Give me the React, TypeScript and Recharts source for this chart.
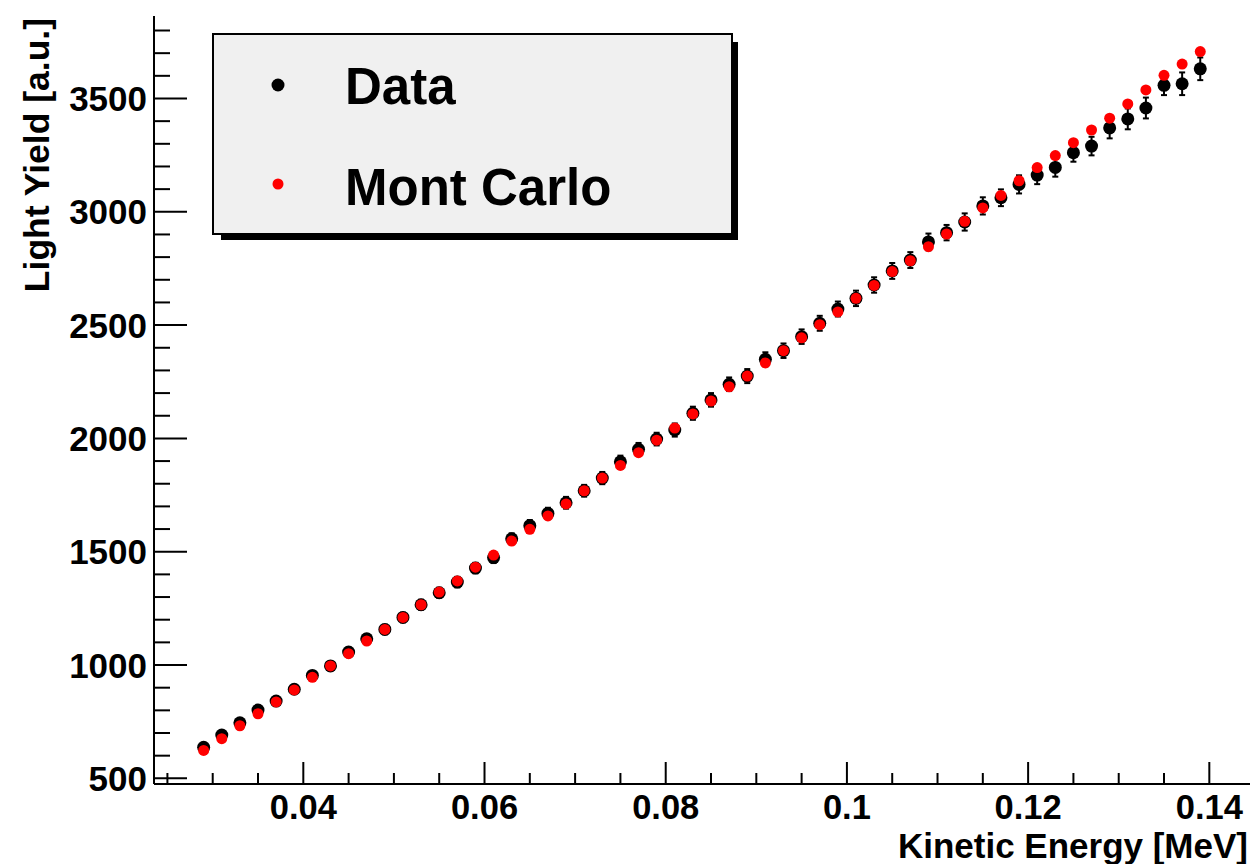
import React from 'react';
import { ScatterChart, Scatter, XAxis, YAxis, ErrorBar, Legend, Label } from 'recharts';

// ---------- data ----------
const energies = [
  0.029, 0.031, 0.033, 0.035, 0.037, 0.039, 0.041, 0.043, 0.045, 0.047,
  0.049, 0.051, 0.053, 0.055, 0.057, 0.059, 0.061, 0.063, 0.065, 0.067,
  0.069, 0.071, 0.073, 0.075, 0.077, 0.079, 0.081, 0.083, 0.085, 0.087,
  0.089, 0.091, 0.093, 0.095, 0.097, 0.099, 0.101, 0.103, 0.105, 0.107,
  0.109, 0.111, 0.113, 0.115, 0.117, 0.119, 0.121, 0.123, 0.125, 0.127,
  0.129, 0.131, 0.133, 0.135, 0.137, 0.139,
];

const dataValues = [
  637, 691, 745, 801, 841, 893, 954, 996, 1057, 1116,
  1157, 1210, 1266, 1319, 1366, 1428, 1474, 1557, 1615, 1669,
  1716, 1769, 1825, 1897, 1952, 1997, 2037, 2111, 2170, 2239,
  2275, 2349, 2387, 2449, 2508, 2571, 2618, 2677, 2739, 2787,
  2867, 2908, 2955, 3026, 3062, 3121, 3162, 3196, 3261, 3290,
  3370, 3410, 3458, 3558, 3565, 3631,
];

const dataErrors = [
  16, 16, 17, 17, 18, 18, 19, 19, 20, 20,
  21, 21, 22, 22, 23, 23, 24, 24, 25, 25,
  26, 26, 27, 27, 28, 28, 29, 29, 30, 30,
  31, 31, 32, 32, 33, 33, 34, 34, 35, 35,
  37, 34, 38, 38, 37, 40, 40, 41, 40, 41,
  46, 46, 46, 43, 50, 50,
];

const mcValues = [
  623, 675, 732, 785, 837, 890, 946, 996, 1050, 1106,
  1157, 1210, 1266, 1322, 1371, 1432, 1485, 1547, 1599, 1658,
  1711, 1769, 1825, 1881, 1937, 1992, 2046, 2108, 2165, 2228,
  2275, 2333, 2387, 2444, 2502, 2558, 2618, 2675, 2736, 2784,
  2846, 2902, 2958, 3017, 3072, 3137, 3195, 3248, 3305, 3361,
  3413, 3476, 3538, 3602, 3652, 3707,
];

const seriesNames = ['Data', 'Mont Carlo'];
const seriesColors = ['#000000', '#ff0000'];

const xMajorTicks = [0.04, 0.06, 0.08, 0.1, 0.12, 0.14];
const xMajorLabels = ['0.04', '0.06', '0.08', '0.1', '0.12', '0.14'];
const xMinorTicks = [
  0.025, 0.03, 0.035, 0.045, 0.05, 0.055, 0.065, 0.07, 0.075, 0.085, 0.09,
  0.095, 0.105, 0.11, 0.115, 0.125, 0.13, 0.135,
];
const yMajorTicks = [500, 1000, 1500, 2000, 2500, 3000, 3500];
const yMajorLabels = ['500', '1000', '1500', '2000', '2500', '3000', '3500'];
const yMinorTicks = [
  600, 700, 800, 900, 1100, 1200, 1300, 1400, 1600, 1700, 1800, 1900,
  2100, 2200, 2300, 2400, 2600, 2700, 2800, 2900, 3100, 3200, 3300, 3400,
  3600, 3700, 3800,
];

const xTitle = 'Kinetic Energy [MeV]';
const yTitle = 'Light Yield [a.u.]';

const xDomain: [number, number] = [0.02352, 0.14449];
const yDomain: [number, number] = [475, 3864];

// ---------- layout / style ----------
const W = 1255;
const H = 864;
const FONT = "'Liberation Sans', Arial, Helvetica, sans-serif";
const PLOT_LEFT = 154;
const PLOT_TOP = 16;
const PLOT_RIGHT = 1250;
const PLOT_BOTTOM = 784;

const dataPoints = energies.map((e, i) => ({ x: e, y: dataValues[i], err: dataErrors[i] }));
const mcPoints = energies.map((e, i) => ({ x: e, y: mcValues[i] }));

const XTick = (props: any) => {
  const { x, y, payload } = props;
  const v = payload.value;
  const idx = xMajorTicks.findIndex((t) => Math.abs(t - v) < 1e-9);
  const major = idx >= 0;
  return (
    <g>
      <line x1={x} y1={y} x2={x} y2={y - (major ? 22 : 11)} stroke="#000" strokeWidth={2} />
      {major && (
        <text x={x} y={y + 35} textAnchor="middle" fontFamily={FONT} fontSize={34.5} fontWeight="bold" fill="#000">
          {xMajorLabels[idx]}
        </text>
      )}
    </g>
  );
};

const YTick = (props: any) => {
  const { x, y, payload } = props;
  const v = payload.value;
  const idx = yMajorTicks.findIndex((t) => Math.abs(t - v) < 1e-6);
  const major = idx >= 0;
  return (
    <g>
      <line x1={x} y1={y} x2={x + (major ? 33 : 16)} y2={y} stroke="#000" strokeWidth={2} />
      {major && (
        <text x={x - 7} y={y + 12.5} textAnchor="end" fontFamily={FONT} fontSize={35} fontWeight="bold" fill="#000">
          {yMajorLabels[idx]}
        </text>
      )}
    </g>
  );
};

const DataDot = (props: any) => <circle cx={props.cx} cy={props.cy} r={6.5} fill={seriesColors[0]} />;
const McDot = (props: any) => <circle cx={props.cx} cy={props.cy} r={5.5} fill={seriesColors[1]} />;

const LegendBox = (props: any) => {
  const payload: any[] = props.payload && props.payload.length ? props.payload : seriesNames.map((n, i) => ({ value: n, color: seriesColors[i] }));
  const rowsY = [52, 151];
  const baseY = [71, 172];
  const radii = [6.5, 5.5];
  return (
    <svg width={530} height={212} style={{ overflow: 'visible', display: 'block' }}>
      <rect x={9} y={9} width={517} height={198} fill="#000" />
      <rect x={1} y={1} width={519} height={200} fill="#f0f0f0" stroke="#000" strokeWidth={2} />
      {payload.map((entry: any, i: number) => (
        <g key={i}>
          <circle cx={66} cy={rowsY[i]} r={radii[i]} fill={entry.color || seriesColors[i]} />
          <text x={133} y={baseY[i]} fontFamily={FONT} fontSize={51} fontWeight="bold" fill="#000">
            {entry.value}
          </text>
        </g>
      ))}
    </svg>
  );
};

export default function App() {
  return (
    <div style={{ position: 'absolute', left: 0, top: 0, width: W, height: H, background: '#fff' }}>
      <ScatterChart
        width={W}
        height={H}
        margin={{ top: PLOT_TOP, right: W - PLOT_RIGHT, bottom: 0, left: 0 }}
      >
        <XAxis
          xAxisId={0}
          type="number"
          dataKey="x"
          domain={xDomain}
          allowDataOverflow
          height={H - PLOT_BOTTOM}
          ticks={[...xMajorTicks, ...xMinorTicks]}
          interval={0}
          tick={<XTick />}
          tickLine={false}
          tickSize={0}
          tickMargin={0}
          axisLine={{ stroke: '#000', strokeWidth: 2 }}
        >
          <Label
            content={() => (
              <text x={PLOT_RIGHT - 2} y={858} textAnchor="end" fontFamily={FONT} fontSize={35} fontWeight="bold" fill="#000">
                {xTitle}
              </text>
            )}
          />
        </XAxis>
        <XAxis
          xAxisId="top"
          orientation="top"
          type="number"
          domain={xDomain}
          allowDataOverflow
          height={0}
          tick={false}
          tickLine={false}
          axisLine={{ stroke: '#000', strokeWidth: 2 }}
        />
        <YAxis
          yAxisId={0}
          type="number"
          dataKey="y"
          domain={yDomain}
          allowDataOverflow
          width={PLOT_LEFT}
          ticks={[...yMajorTicks, ...yMinorTicks]}
          interval={0}
          tick={<YTick />}
          tickLine={false}
          tickSize={0}
          tickMargin={0}
          axisLine={{ stroke: '#000', strokeWidth: 2 }}
        >
          <Label
            content={() => (
              <text
                x={49}
                y={PLOT_TOP + 2}
                transform={`rotate(-90 49 ${PLOT_TOP + 2})`}
                textAnchor="end"
                fontFamily={FONT}
                fontSize={35.5}
                fontWeight="bold"
                fill="#000"
              >
                {yTitle}
              </text>
            )}
          />
        </YAxis>
        <YAxis
          yAxisId="right"
          orientation="right"
          type="number"
          domain={yDomain}
          allowDataOverflow
          width={0}
          tick={false}
          tickLine={false}
          axisLine={{ stroke: '#000', strokeWidth: 2 }}
        />
        <Scatter
          name={seriesNames[0]}
          data={dataPoints}
          fill={seriesColors[0]}
          shape={DataDot}
          isAnimationActive={false}
        >
          <ErrorBar dataKey="err" direction="y" width={3} stroke="#000" strokeWidth={2} />
        </Scatter>
        <Scatter
          name={seriesNames[1]}
          data={mcPoints}
          fill={seriesColors[1]}
          shape={McDot}
          isAnimationActive={false}
        />
        <Legend
          layout="vertical"
          align="center"
          verticalAlign="middle"
          content={<LegendBox />}
          wrapperStyle={{ position: 'absolute', left: 212, top: 33, width: 530, height: 212 }}
        />
      </ScatterChart>
    </div>
  );
}
